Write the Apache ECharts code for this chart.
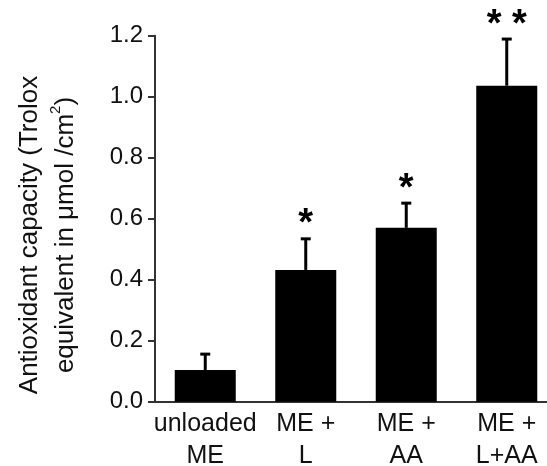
<!DOCTYPE html>
<html>
<head>
<meta charset="utf-8">
<script src="https://cdn.jsdelivr.net/npm/echarts@6/dist/echarts.min.js"></script>
<style>
html,body{margin:0;padding:0;background:#fff;}
#c{width:547px;height:466px;}
</style>
</head>
<body>
<div id="c"></div>
<script>
var categories = ['unloaded\nME', 'ME +\nL', 'ME +\nAA', 'ME +\nL+AA'];
var means = [0.104, 0.432, 0.570, 1.036];
var sem = [0.052, 0.102, 0.081, 0.153];
var significance = ['', '*', '*', '* *'];
var yTicks = [0, 0.2, 0.4, 0.6, 0.8, 1.0, 1.2];

var FONT = '"Liberation Sans", Arial, sans-serif';
var chart = echarts.init(document.getElementById('c'), null, {renderer: 'canvas'});

var errData = means.map(function (m, i) { return [i, m, m + sem[i]]; });

chart.setOption({
  animation: false,
  backgroundColor: '#fff',
  grid: {left: 155, top: 35.7, width: 402, bottom: 64.3, containLabel: false, outerBoundsMode: 'none'},
  xAxis: {
    type: 'category',
    data: categories,
    axisLine: {lineStyle: {color: '#333', width: 2}},
    axisTick: {show: false},
    axisLabel: {
      color: '#111', fontFamily: FONT, fontSize: 25, lineHeight: 32, margin: 6,
      interval: 0
    }
  },
  yAxis: {
    type: 'value',
    min: yTicks[0], max: yTicks[yTicks.length - 1], interval: 0.2,
    splitLine: {show: false},
    axisLine: {show: true, lineStyle: {color: '#333', width: 2}},
    axisTick: {show: true, length: 7, lineStyle: {color: '#333', width: 2}},
    axisLabel: {
      color: '#111', fontFamily: FONT, fontSize: 24, margin: 12,
      formatter: function (v) { return v.toFixed(1); }
    }
  },
  graphic: [{
    type: 'text',
    x: 48, y: 235,
    rotation: Math.PI / 2,
    style: {
      text: 'Antioxidant capacity (Trolox\nequivalent in μmol /cm{sup|2})',
      font: '26px ' + FONT,
      fill: '#111',
      align: 'center',
      verticalAlign: 'middle',
      lineHeight: 36,
      rich: {
        sup: {fontSize: 15, fontFamily: FONT, verticalAlign: 'top', padding: [0, 0, 12, 0], lineHeight: 36}
      }
    }
  }],
  series: [{
    type: 'bar',
    data: means,
    barWidth: 61,
    itemStyle: {color: '#000'},
    z: 2
  }, {
    type: 'custom',
    data: errData,
    z: 3,
    renderItem: function (params, api) {
      var base = api.coord([api.value(0), api.value(1)]);
      var top = api.coord([api.value(0), api.value(2)]);
      var sig = significance[params.dataIndex];
      var children = [{
        type: 'line',
        shape: {x1: base[0], y1: base[1], x2: top[0], y2: top[1]},
        style: {stroke: '#000', lineWidth: 3}
      }, {
        type: 'line',
        shape: {x1: top[0] - 5, y1: top[1], x2: top[0] + 5, y2: top[1]},
        style: {stroke: '#000', lineWidth: 3}
      }];
      if (sig) {
        children.push({
          type: 'text',
          x: top[0], y: top[1] - 14,
          style: {
            text: sig, font: 'bold 38px ' + FONT, fill: '#000',
            align: 'center', verticalAlign: 'middle'
          }
        });
      }
      return {type: 'group', children: children};
    }
  }]
});
</script>
</body>
</html>
